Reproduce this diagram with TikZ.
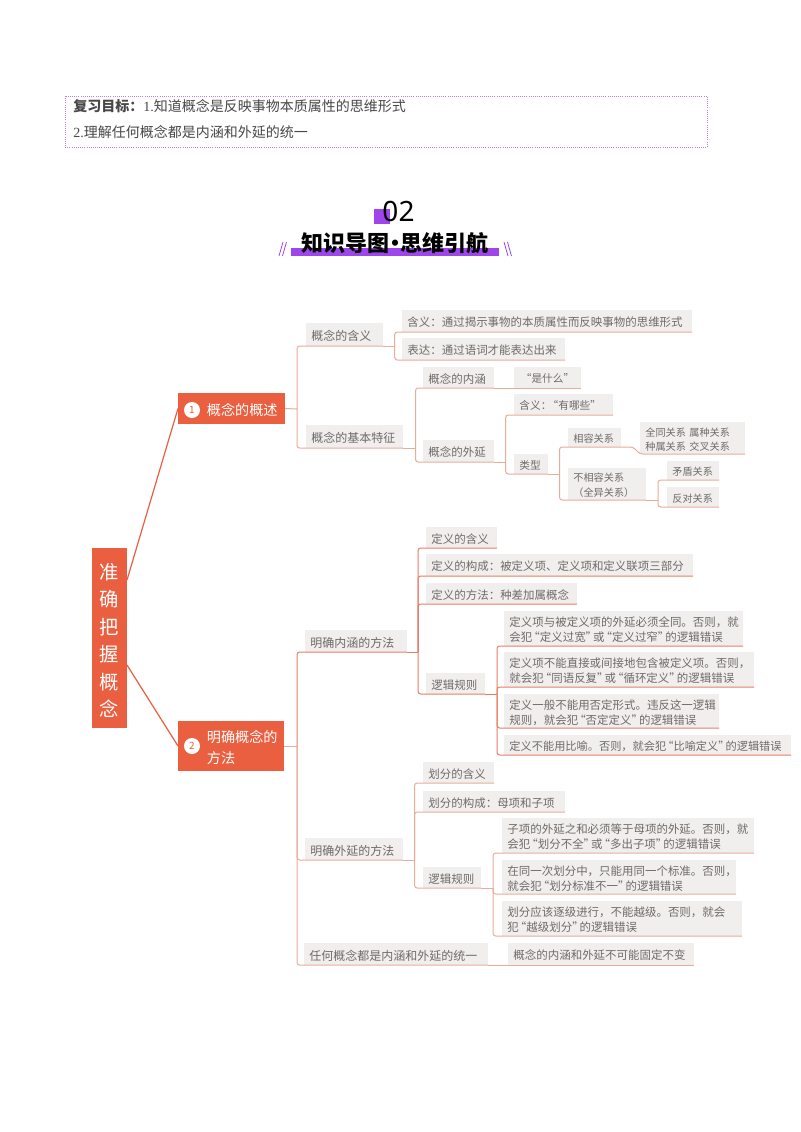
\documentclass[tikz,border=0pt]{standalone}
\usepackage{fontspec}
\setmainfont{Noto Sans CJK SC}
\newfontfamily\serf{Liberation Serif}
\newfontfamily\digf{Noto Sans}
\definecolor{mmorange}{HTML}{E95F40}
\definecolor{mmpurple}{HTML}{9E45EC}
\definecolor{mmbox}{HTML}{F0EFEE}
\definecolor{mmtext}{HTML}{6F6A66}
\definecolor{mmpale}{HTML}{E8AC9A}
\definecolor{mmred}{HTML}{E97C64}
\newcommand\qo{\makebox[.65em][r]{“}}
\newcommand\qc{\makebox[.65em][l]{”}}
\newcommand\zc{\symbol{"FF1A}}
\newcommand\zd{\symbol{"FF0C}}
\newcommand\zl{\symbol{"FF08}}
\newcommand\zr{\symbol{"FF09}}
\newcommand\mmnode[7][]{%
  \pgfmathsetmacro\mmw{(#5-#3)*0.75}%
  \pgfmathsetmacro\mmh{(#6-#4)*0.75}%
  \pgfmathsetmacro\mmt{\mmw-8.2}%
  \node[boxn,minimum width=\mmw pt,minimum height=\mmh pt,text width=\mmt pt,#1] (#2) at (#3,#4) {\rule{0pt}{1.1em}#7};}
\tikzset{
  boxn/.style={anchor=north west,fill=mmbox,text=mmtext,inner xsep=4.1pt,inner ysep=0pt,outer sep=0pt,align=left,font=\fontsize{8.6pt}{11.25pt}\selectfont},
  lvb/.style={font=\fontsize{9pt}{11.25pt}\selectfont},
  lvn/.style={font=\fontsize{8.4pt}{11.25pt}\selectfont},
  lvs/.style={font=\fontsize{8pt}{10.7pt}\selectfont},
  lvt/.style={font=\fontsize{7.6pt}{10.7pt}\selectfont},
  topic/.style={fill=mmorange,text=white,font=\fontsize{10.6pt}{15.75pt}\selectfont},
  badge/.style={circle,fill=white,text=mmorange,inner sep=0pt,outer sep=0pt,minimum size=12pt,font=\fontsize{7.5pt}{9pt}\selectfont},
  linkp/.style={draw=mmpale,line width=.75pt,rounded corners=2pt},
  linkr/.style={draw=mmred,line width=.75pt,rounded corners=2pt},
  main/.style={draw=mmorange,line width=.9pt},
  head/.style={anchor=west,text=black!72,inner sep=0pt,font=\fontsize{10.5pt}{13pt}\selectfont},
}
\begin{document}
\begin{tikzpicture}[x=0.75pt,y=-0.75pt]
\useasboundingbox[fill=white] (0,0) rectangle (800,1132);
% header
\draw[densely dotted,draw=mmpurple!70,line width=.6pt] (65,96) rectangle (707,147);
\node[head] (h1) at (73,106) {\textbf{复习目标\zc{}}{\serf 1.}知道概念是反映事物本质属性的思维形式};
\node[head] (h2) at (73,132) {{\serf 2.}理解任何概念都是内涵和外延的统一};
% title
\fill[mmpurple] (374,209) rectangle (390,224);
\node[inner sep=0pt,font=\digf\fontsize{21pt}{24pt}\selectfont] (t02) at (398.5,211.5) {02};
\fill[mmpurple] (291,248) rectangle (499,256);
\node[inner sep=0pt,font=\bfseries\fontsize{16.5pt}{20pt}\selectfont] (tt) at (395,243.5) {知识导图\makebox[.5em][c]{•}思维引航};
\draw[mmpurple,line width=.6pt] (279,256) -- (283,242) (282.5,256) -- (286.5,242);
\draw[mmpurple,line width=.6pt] (504,242) -- (508,256) (507.5,242) -- (511.5,256);
% root and topics
\mmnode[topic,align=center,font=\fontsize{14.5pt}{20.6pt}\selectfont]{root}{92}{548}{127}{728}{准\\确\\把\\握\\概\\念}
\mmnode[topic]{tp1}{178}{393}{285}{424}{\hspace*{17.6pt}概念的概述}
\mmnode[topic]{tp2}{178}{721}{284}{771}{\hspace*{17.6pt}明确概念的\\\hspace*{17.6pt}方法}
\node[badge] (c1) at (192,410) {1};
\node[badge] (c2) at (192,746) {2};
\coordinate (ra) at (127,580);
\coordinate (rb) at (127,665);
\draw[main] (ra) -- (tp1.west);
\draw[main] (rb) -- (tp2.west);
% branch 1
\mmnode[lvb]{a1}{306}{323}{383}{346}{概念的含义}
\mmnode[lvb]{a2}{306}{425}{403}{448}{概念的基本特征}
\mmnode{b1}{402}{310}{692}{332}{含义\zc{}通过揭示事物的本质属性而反映事物的思维形式}
\mmnode{b2}{402}{338}{565}{360}{表达\zc{}通过语词才能表达出来}
\mmnode{b3}{423}{367}{494}{388}{概念的内涵}
\mmnode{b4}{423}{440}{494}{462}{概念的外延}
\mmnode[lvs]{d1}{514}{367}{581}{388}{\hfill\qo 是什么\qc\hfill\null}
\mmnode[lvs]{d2}{514}{394}{613}{415}{含义\zc{}\qo 有哪些\qc}
\mmnode[lvs]{d3}{514}{454}{548}{474}{类型}
\mmnode[lvt]{e1}{568}{428}{621}{447}{相容关系}
\mmnode[lvt]{e2}{568}{468}{646}{500}{不相容关系\\\zl{}全异关系\zr{}}
\mmnode[lvt]{f1}{640}{422}{745}{454}{全同关系 属种关系\\种属关系 交叉关系}
\mmnode[lvt]{f2}{667}{461}{719}{480}{矛盾关系}
\mmnode[lvt]{f3}{667}{487}{719}{507}{反对关系}
\coordinate (j1) at (297,409);
\coordinate (ja) at (394.7,346);
\coordinate (jb) at (415.5,448);
\coordinate (jc) at (505.7,462);
\coordinate (jd) at (559.5,474);
\coordinate (je) at (633,447);
\coordinate (jf) at (658,500);
\draw[linkp] (tp1.east) -- (j1);
\draw[linkp] (j1) |- (a1.south east);
\draw[linkp] (j1) |- (a2.south east);
\draw[linkp] (a1.south east) -- (ja);
\draw[linkp] (ja) |- (b1.south east);
\draw[linkp] (ja) |- (b2.south east);
\draw[linkp] (a2.south east) -- (jb);
\draw[linkp] (jb) |- (b3.south east);
\draw[linkp] (jb) |- (b4.south east);
\draw[linkp] (b3.south east) -- (d1.south east);
\draw[linkp] (b4.south east) -- (jc);
\draw[linkp] (jc) |- (d2.south east);
\draw[linkp] (jc) |- (d3.south east);
\draw[linkp] (d3.south east) -- (jd);
\draw[linkp] (jd) |- (e1.south east);
\draw[linkp] (jd) |- (e2.south east);
\draw[linkp] (e1.south east) -- (je) -- (f1.south west) -- (f1.south east);
\draw[linkp] (e2.south east) -- (jf);
\draw[linkp] (jf) |- (f2.south east);
\draw[linkp] (jf) |- (f3.south east);
% branch 2
\mmnode[lvb]{g1}{305}{630}{407}{652}{明确内涵的方法}
\mmnode[lvb]{g2}{305}{838}{403}{860}{明确外延的方法}
\mmnode[lvb]{g3}{304}{943}{488}{965}{任何概念都是内涵和外延的统一}
\mmnode{g4}{508}{943}{694}{965}{概念的内涵和外延不可能固定不变}
\mmnode{h3}{426}{527}{497}{548}{定义的含义}
\mmnode{h4}{426}{554}{693}{576}{定义的构成\zc{}被定义项、定义项和定义联项三部分}
\mmnode{h5}{426}{583}{577}{604}{定义的方法\zc{}种差加属概念}
\mmnode{h6}{426}{673}{485}{694}{逻辑规则}
\mmnode{k1}{504}{611}{743}{646}{定义项与被定义项的外延必须全同。否则\zd{}就\\会犯\qo 定义过宽\qc 或\qo 定义过窄\qc 的逻辑错误}
\mmnode{k2}{504}{652}{754}{687}{定义项不能直接或间接地包含被定义项。否则\zd{}\\就会犯\qo 同语反复\qc 或\qo 循环定义\qc 的逻辑错误}
\mmnode{k3}{504}{694}{719}{728}{定义一般不能用否定形式。违反这一逻辑\\规则\zd{}就会犯\qo 否定定义\qc 的逻辑错误}
\mmnode[lvn]{k4}{504}{735}{791}{755}{定义不能用比喻。否则\zd{}就会犯\qo 比喻定义\qc 的逻辑错误}
\mmnode{m1}{423}{762}{494}{783}{划分的含义}
\mmnode{m2}{423}{791}{565}{812}{划分的构成\zc{}母项和子项}
\mmnode{m3}{423}{867}{481}{888}{逻辑规则}
\mmnode{p1}{502}{818}{754}{853}{子项的外延之和必须等于母项的外延。否则\zd{}就\\会犯\qo 划分不全\qc 或\qo 多出子项\qc 的逻辑错误}
\mmnode{p2}{502}{860}{736}{894}{在同一次划分中\zd{}只能用同一个标准。否则\zd{}\\就会犯\qo 划分标准不一\qc 的逻辑错误}
\mmnode{p3}{502}{901}{742}{936}{划分应该逐级进行\zd{}不能越级。否则\zd{}就会\\犯\qo 越级划分\qc 的逻辑错误}
\coordinate (j2) at (297,746);
\coordinate (jh) at (418,652);
\coordinate (jk) at (497,694);
\coordinate (jm) at (414.5,860);
\coordinate (jp) at (493,888);
\draw[linkp] (tp2.east) -- (j2);
\draw[linkr] (j2) |- (g1.south east);
\draw[linkp] (j2) |- (g2.south east);
\draw[linkp] (j2) |- (g3.south east);
\draw[linkp] (g3.south east) -- (g4.south east);
\draw[linkr] (g1.south east) -- (jh);
\draw[linkr] (jh) |- (h3.south east);
\draw[linkr] (jh) |- (h4.south east);
\draw[linkr] (jh) |- (h5.south east);
\draw[linkr] (jh) |- (h6.south east);
\draw[linkr] (h6.south east) -- (jk);
\draw[linkr] (jk) |- (k1.south east);
\draw[linkr] (jk) |- (k2.south east);
\draw[linkr] (jk) |- (k3.south east);
\draw[linkr] (jk) |- (k4.south east);
\draw[linkp] (g2.south east) -- (jm);
\draw[linkp] (jm) |- (m1.south east);
\draw[linkp] (jm) |- (m2.south east);
\draw[linkp] (jm) |- (m3.south east);
\draw[linkp] (m3.south east) -- (jp);
\draw[linkp] (jp) |- (p1.south east);
\draw[linkp] (jp) |- (p2.south east);
\draw[linkp] (jp) |- (p3.south east);
\end{tikzpicture}
\end{document}
